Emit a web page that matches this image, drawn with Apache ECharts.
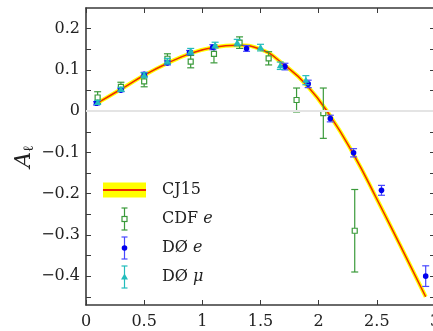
<!DOCTYPE html>
<html>
<head>
<meta charset="utf-8">
<script src="https://cdn.jsdelivr.net/npm/echarts@6/dist/echarts.min.js"></script>
<style>
  html, body { margin: 0; padding: 0; background: #fff; }
  #chart { width: 433px; height: 331px; }
</style>
</head>
<body>
<div id="chart"></div>
<script>
// CJ15 curve
const curveX = [0.1, 0.3, 0.5, 0.7, 0.9, 1.1, 1.3, 1.5, 1.7, 1.9, 2.1, 2.3, 2.5, 2.7, 2.92];
const curveY = [0.020, 0.053, 0.087, 0.116, 0.140, 0.155, 0.160, 0.150, 0.113, 0.062, -0.012, -0.105, -0.213, -0.325, -0.45];

// CDF e
const cdfX = [0.1, 0.3, 0.5, 0.7, 0.9, 1.1, 1.32, 1.57, 1.81, 2.04, 2.31];
const cdfY = [0.033, 0.059, 0.072, 0.127, 0.120, 0.139, 0.166, 0.128, 0.027, -0.005, -0.290];
const cdfErr = [0.014, 0.011, 0.013, 0.012, 0.015, 0.022, 0.014, 0.016, 0.029, 0.061, 0.100];

// D0 e
const d0eX = [0.09, 0.3, 0.5, 0.7, 0.89, 1.09, 1.38, 1.71, 1.91, 2.1, 2.3, 2.54, 2.92];
const d0eY = [0.019, 0.051, 0.089, 0.117, 0.142, 0.155, 0.152, 0.108, 0.066, -0.018, -0.101, -0.192, -0.400];
const d0eErr = [0.004, 0.004, 0.005, 0.005, 0.005, 0.006, 0.007, 0.008, 0.009, 0.008, 0.010, 0.012, 0.025];

// D0 mu
const d0muX = [0.1, 0.3, 0.5, 0.7, 0.9, 1.11, 1.3, 1.5, 1.67, 1.89];
const d0muY = [0.021, 0.053, 0.087, 0.121, 0.145, 0.160, 0.166, 0.154, 0.110, 0.075];
const d0muErr = [0.005, 0.005, 0.006, 0.007, 0.007, 0.007, 0.008, 0.008, 0.009, 0.011];

const yLabelValues = [0.2, 0.1, 0, -0.1, -0.2, -0.3, -0.4];
const yTickValues = [0.2, 0.15, 0.1, 0.05, 0, -0.05, -0.1, -0.15, -0.2, -0.25, -0.3, -0.35, -0.4, -0.45];

const FONT = 'DejaVu Serif';
const GREEN = '#3a9a3a';
const BLUE = '#0000ee';
const BLUE_BAR = '#4848ff';
const CYAN = '#22bcbc';

const chart = echarts.init(document.getElementById('chart'));

const zip = (xs, ys, es) => xs.map((x, i) => es ? [x, ys[i], es[i]] : [x, ys[i]]);

function errorBars(marker, barColor) {
  return function (params, api) {
    const x = api.value(0), y = api.value(1), e = api.value(2);
    const p = api.coord([x, y]);
    const hi = api.coord([x, y + e]);
    const lo = api.coord([x, y - e]);
    const cap = 3.5;
    const bar = { stroke: barColor, lineWidth: 1.2 };
    const children = [
      { type: 'line', shape: { x1: p[0], y1: hi[1], x2: p[0], y2: lo[1] }, style: bar },
      { type: 'line', shape: { x1: p[0] - cap, y1: hi[1], x2: p[0] + cap, y2: hi[1] }, style: bar },
      { type: 'line', shape: { x1: p[0] - cap, y1: lo[1], x2: p[0] + cap, y2: lo[1] }, style: bar }
    ];
    if (marker === 'square') {
      children.push({ type: 'rect', shape: { x: p[0] - 2.5, y: p[1] - 2.5, width: 5, height: 5 },
        style: { fill: '#fff', stroke: GREEN, lineWidth: 1.2 } });
    } else if (marker === 'circle') {
      children.push({ type: 'circle', shape: { cx: p[0], cy: p[1], r: 2.8 }, style: { fill: BLUE } });
    } else {
      children.push({ type: 'polygon',
        shape: { points: [[p[0], p[1] - 3.5], [p[0] + 3.5, p[1] + 2.5], [p[0] - 3.5, p[1] + 2.5]] },
        style: { fill: CYAN } });
    }
    return { type: 'group', children };
  };
}

// legend icons as small inline svgs
function svgIcon(body) {
  const svg = '<svg xmlns="http://www.w3.org/2000/svg" width="54" height="26" viewBox="0 0 54 26">' + body + '</svg>';
  return 'image://data:image/svg+xml;charset=utf-8,' + encodeURIComponent(svg);
}
function barIcon(color, markerSvg) {
  return svgIcon(
    '<g stroke="' + color + '" stroke-width="1.2" fill="none">' +
    '<line x1="21.5" y1="2" x2="21.5" y2="24"/>' +
    '<line x1="18.5" y1="2" x2="24.5" y2="2"/>' +
    '<line x1="18.5" y1="24" x2="24.5" y2="24"/></g>' + markerSvg);
}
const iconCJ15 = svgIcon('<rect x="0" y="5.5" width="43" height="15" fill="#ffff00"/>' +
  '<line x1="0" y1="13" x2="43" y2="13" stroke="#ee2a00" stroke-width="1.8"/>');
const iconCDF = barIcon(GREEN, '<rect x="19" y="10.5" width="5" height="5" fill="#fff" stroke="' + GREEN + '" stroke-width="1.2"/>');
const iconD0e = barIcon(BLUE_BAR, '<circle cx="21.5" cy="13" r="2.8" fill="' + BLUE + '"/>');
const iconD0mu = barIcon(CYAN, '<polygon points="21.5,9.5 25,15.5 18,15.5" fill="' + CYAN + '"/>');

const axisLine = { show: true, onZero: false, lineStyle: { color: '#3a3a3a', width: 1.6 } };
const tick = { show: true, inside: true, length: 5, lineStyle: { color: '#3a3a3a', width: 1 } };
const labelStyle = { fontFamily: FONT, fontSize: 16, color: '#222' };

const fmtY = v => {
  if (Math.abs(v) < 1e-9) return '0';
  return (v < 0 ? '\u2212' : '') + Math.abs(v).toFixed(1);
};

const option = {
  animation: false,
  backgroundColor: '#fff',
  textStyle: { fontFamily: FONT },
  grid: { left: 86, right: -2, top: 8, bottom: 26, containLabel: false, outerBoundsMode: 'none' },
  legend: {
    orient: 'vertical',
    left: 103,
    top: 177,
    padding: 0,
    itemGap: 3,
    itemWidth: 54,
    itemHeight: 26,
    selectedMode: false,
    textStyle: { fontFamily: FONT, fontSize: 16, color: '#222',
      rich: { i: { fontFamily: FONT, fontStyle: 'italic', fontSize: 16, color: '#222' } } },
    formatter: name => {
      if (name === 'CDF e') return 'CDF {i|e}';
      if (name === 'D\u00d8 e') return 'D\u00d8 {i|e}';
      if (name === 'D\u00d8 \u03bc') return 'D\u00d8 {i|\u03bc}';
      return name;
    },
    data: [
      { name: 'CJ15', icon: iconCJ15 },
      { name: 'CDF e', icon: iconCDF },
      { name: 'D\u00d8 e', icon: iconD0e },
      { name: 'D\u00d8 \u03bc', icon: iconD0mu }
    ]
  },
  xAxis: [
    {
      type: 'value', min: 0, max: 3, interval: 0.5, position: 'bottom',
      axisLine, axisTick: tick, splitLine: { show: false },
      axisLabel: { ...labelStyle, margin: 9, formatter: v => String(v) }
    },
    {
      type: 'value', min: 0, max: 3, interval: 0.5, position: 'top',
      axisLine, axisTick: tick, splitLine: { show: false }, axisLabel: { show: false }
    }
  ],
  yAxis: [
    {
      type: 'value', min: -0.47, max: 0.25, position: 'left',
      axisLine, splitLine: { show: false },
      axisTick: { ...tick, customValues: yTickValues },
      axisLabel: { ...labelStyle, margin: 6, customValues: yLabelValues, formatter: fmtY },
      name: '{a|A}{l|\u2113}',
      nameLocation: 'middle',
      nameRotate: 90,
      nameGap: 50,
      nameMoveOverlap: false,
      nameTextStyle: {
        rich: {
          a: { fontFamily: FONT, fontStyle: 'italic', fontSize: 22, color: '#222' },
          l: { fontFamily: FONT, fontSize: 14, color: '#222', padding: [10, 0, 0, 0] }
        }
      }
    },
    {
      type: 'value', min: -0.47, max: 0.25, position: 'right',
      axisLine, splitLine: { show: false },
      axisTick: { ...tick, customValues: yTickValues },
      axisLabel: { show: false }
    }
  ],
  series: [
    {
      name: 'zero', type: 'line', data: [], silent: true, z: 0,
      markLine: {
        silent: true, symbol: 'none', label: { show: false },
        lineStyle: { color: '#e4e4e4', width: 2, type: 'solid' },
        data: [{ yAxis: 0 }]
      }
    },
    {
      name: 'CJ15', type: 'line', smooth: true, showSymbol: false, z: 2,
      itemStyle: { color: '#ffff00' },
      lineStyle: { color: '#ffff00', width: 4 },
      data: zip(curveX, curveY)
    },
    {
      name: 'CJ15 central', type: 'line', smooth: true, showSymbol: false, z: 3,
      itemStyle: { color: '#ee2a00' },
      lineStyle: { color: '#ee2a00', width: 1.5 },
      data: zip(curveX, curveY)
    },
    {
      name: 'CDF e', type: 'custom', z: 4,
      itemStyle: { color: GREEN },
      renderItem: errorBars('square', GREEN),
      encode: { x: 0, y: 1 },
      data: zip(cdfX, cdfY, cdfErr)
    },
    {
      name: 'D\u00d8 e', type: 'custom', z: 5,
      itemStyle: { color: BLUE },
      renderItem: errorBars('circle', BLUE_BAR),
      encode: { x: 0, y: 1 },
      data: zip(d0eX, d0eY, d0eErr)
    },
    {
      name: 'D\u00d8 \u03bc', type: 'custom', z: 6,
      itemStyle: { color: CYAN },
      renderItem: errorBars('triangle', CYAN),
      encode: { x: 0, y: 1 },
      data: zip(d0muX, d0muY, d0muErr)
    }
  ]
};

chart.setOption(option);
</script>
</body>
</html>
